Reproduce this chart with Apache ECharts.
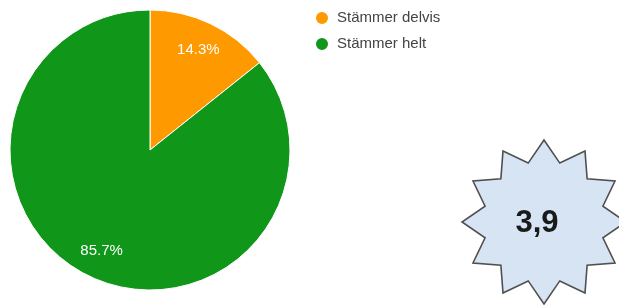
<!DOCTYPE html>
<html>
<head>
<meta charset="utf-8">
<script src="https://cdn.jsdelivr.net/npm/echarts@6/dist/echarts.min.js"></script>
<style>
  html, body { margin: 0; padding: 0; background: #fff; }
  #chart { width: 619px; height: 305px; }
</style>
</head>
<body>
<div id="chart"></div>
<script>
"use strict";
// answers (counts): 1 of 7 partly, 6 of 7 fully
const categories = ['Stämmer delvis', 'Stämmer helt'];
const counts = [1, 6];
const colors = ['#ff9900', '#109618'];
// average score shown in the badge
const scoreText = '3,9';

const pieData = categories.map((name, i) => ({
  name: name,
  value: counts[i],
  itemStyle: { color: colors[i] }
}));

// badge: 12 point star
const starPoints = (cx, cy, rOut, rIn, n) => {
  const pts = [];
  for (let i = 0; i < n * 2; i++) {
    const r = i % 2 === 0 ? rOut : rIn;
    const a = -Math.PI / 2 + i * Math.PI / n;
    pts.push([cx + r * Math.cos(a), cy + r * Math.sin(a)]);
  }
  return pts;
};

const FONT = 'Arial, "Liberation Sans"';

const myChart = echarts.init(document.getElementById('chart'));
myChart.setOption({
  animation: false,
  legend: {
    orient: 'vertical',
    left: 309,
    top: 5,
    itemWidth: 14,
    itemHeight: 14,
    itemGap: 10,
    icon: 'circle',
    data: categories,
    textStyle: {
      fontFamily: FONT,
      fontSize: 15,
      color: '#444',
      padding: [0, 0, 0, 3]
    }
  },
  series: [
    {
      type: 'pie',
      center: [150, 150],
      radius: [0, 140],
      startAngle: 90,
      clockwise: true,
      percentPrecision: 1,
      label: { show: false },
      labelLine: { show: false },
      emphasis: { disabled: true },
      itemStyle: { borderColor: '#fff', borderWidth: 1 },
      data: pieData
    },
    {
      // label ring only, to push the labels out like the original
      type: 'pie',
      center: [150, 150],
      radius: [77, 140],
      startAngle: 90,
      clockwise: true,
      silent: true,
      percentPrecision: 1,
      itemStyle: { color: 'transparent' },
      label: {
        show: true,
        position: 'inside',
        formatter: '{d}%',
        color: '#fff',
        fontFamily: FONT,
        fontSize: 15
      },
      labelLine: { show: false },
      emphasis: { disabled: true },
      data: categories.map((name, i) => ({ name: name, value: counts[i] }))
    }
  ],
  graphic: [
    {
      type: 'polygon',
      shape: { points: starPoints(544, 222, 82, 61, 12) },
      style: { fill: '#d6e4f3', stroke: '#505050', lineWidth: 1.6 }
    },
    {
      type: 'text',
      x: 537,
      y: 223,
      style: {
        text: scoreText,
        fill: '#1a1a1a',
        font: 'bold 31px ' + FONT,
        align: 'center',
        verticalAlign: 'middle'
      }
    }
  ]
});
</script>
</body>
</html>
